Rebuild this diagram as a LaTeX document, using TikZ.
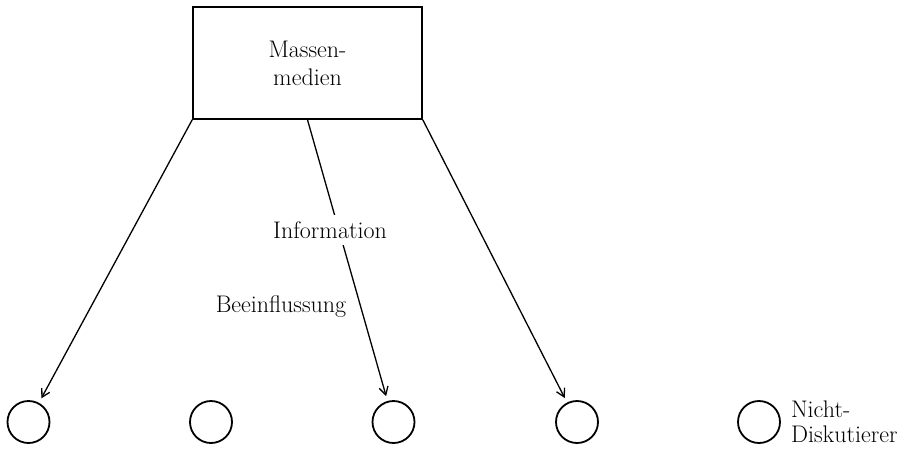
\documentclass[tikz,border=0pt]{standalone}
\usepackage{tikz}
\usetikzlibrary{arrows.meta}

\begin{document}
\begin{tikzpicture}[x=1pt,y=-1pt,
    kasten/.style={draw, line width=1.6pt, minimum width=229pt, minimum height=112pt, align=center, inner sep=0pt},
    person/.style={draw, circle, line width=1.8pt, minimum size=42pt, inner sep=0pt},
    pfeil/.style={line width=1.3pt, -{Straight Barb[length=8pt,width=9pt,line width=1.3pt]}, shorten >=5pt},
    schrift/.style={font=\fontsize{24}{28}\selectfont}]
    \useasboundingbox (0,0) rectangle (904,448);

    % Massenmedien
    \node[kasten, schrift] (medien) at (307.5,63) {Massen-\\medien};

    % Personen
    \foreach \i/\x in {1/28.5, 2/211, 3/393.5, 4/577, 5/759}
        \node[person] (p\i) at (\x,422) {};

    % Pfeile
    \draw[pfeil] (medien.south west) -- (p1);
    \draw[pfeil] (medien.south) -- (p3);
    \draw[pfeil] (medien.south east) -- (p4);

    % Beschriftung
    \node[schrift, fill=white, inner xsep=2pt, inner ysep=6pt] (info) at (330,230) {Information};
    \node[schrift] (beein) at (281,307) {Beeinflussung};
    \node[schrift, font=\fontsize{24}{25}\selectfont, anchor=west, align=left, inner sep=0pt] (nicht) at ([xshift=10pt]p5.east) {Nicht-\\Diskutierer};
\end{tikzpicture}
\end{document}
